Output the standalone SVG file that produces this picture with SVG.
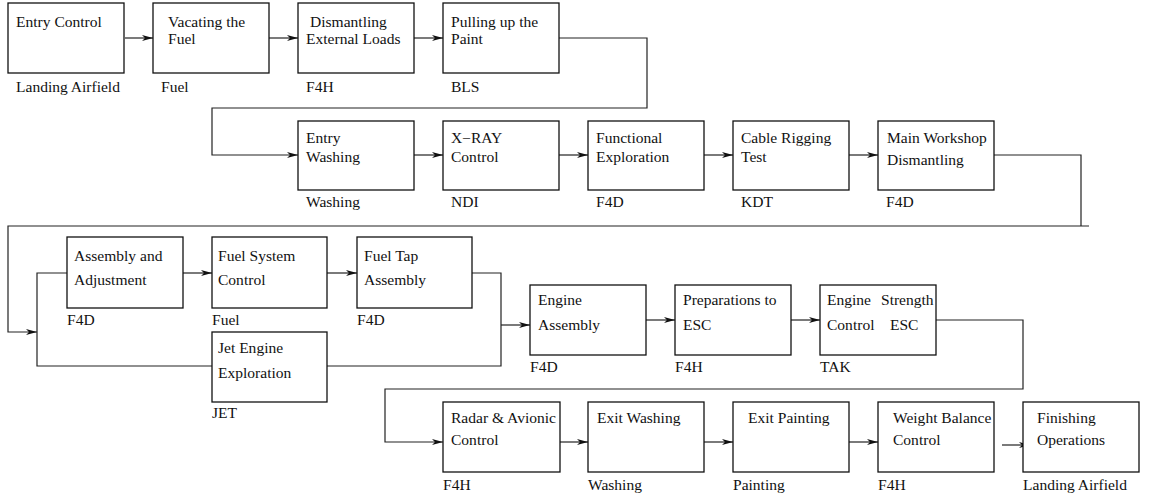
<svg xmlns="http://www.w3.org/2000/svg" width="1153" height="498" viewBox="0 0 1153 498">
<style>
.b{fill:#fff;stroke:#111;stroke-width:1.3}
.c{fill:none;stroke:#222;stroke-width:1.2}
.a{marker-end:url(#ah)}
text{font-family:"Liberation Serif","Times New Roman",serif;font-size:14px;fill:#111}
</style>
<defs>
<marker id="ah" markerUnits="userSpaceOnUse" markerWidth="12" markerHeight="7" refX="11" refY="3" orient="auto">
<path d="M0,0 L11,3 L0,6 L3,3 z" fill="#111"/>
</marker>
</defs>
<rect width="1153" height="498" fill="#fff"/>
<g id="connectors">
<path class="c a" d="M125,38 H153"/>
<path class="c a" d="M269,38 H298"/>
<path class="c a" d="M414,38 H443"/>
<path class="c a" d="M559,38 H647 V108 H212 V155 H298"/>
<path class="c a" d="M414,155 H443"/>
<path class="c a" d="M559,155 H588"/>
<path class="c a" d="M704,155 H733"/>
<path class="c a" d="M849,155 H878"/>
<path class="c" d="M994,155 H1081 V226"/>
<path class="c a" d="M1089,226 H8 V332 H37"/>
<path class="c" d="M67,273 H37 V366 H212"/>
<path class="c a" d="M183,273 H212"/>
<path class="c a" d="M327,273 H357"/>
<path class="c" d="M472,273 H501 V366 H327"/>
<path class="c a" d="M501,325 H530"/>
<path class="c a" d="M646,320 H675"/>
<path class="c a" d="M791,320 H820"/>
<path class="c a" d="M936,320 H1023 V389 H385 V442 H443"/>
<path class="c a" d="M560,442 H588"/>
<path class="c a" d="M704,442 H733"/>
<path class="c a" d="M849,442 H878"/>
<path class="c a" d="M1002,445 H1030"/>
</g>
<g id="n1"><rect class="b" x="8" y="3" width="116" height="70"/>
<text transform="translate(16 27) scale(1.11 1)">Entry Control</text>
<text transform="translate(16 92) scale(1.11 1)">Landing Airfield</text></g>
<g id="n2"><rect class="b" x="153" y="3" width="116" height="70"/>
<text transform="translate(168 27) scale(1.11 1)">Vacating the</text>
<text transform="translate(168 44) scale(1.11 1)">Fuel</text>
<text transform="translate(161 92) scale(1.11 1)">Fuel</text></g>
<g id="n3"><rect class="b" x="298" y="3" width="116" height="70"/>
<text transform="translate(310 27) scale(1.11 1)">Dismantling</text>
<text transform="translate(306 44) scale(1.11 1)">External Loads</text>
<text transform="translate(306 92) scale(1.11 1)">F4H</text></g>
<g id="n4"><rect class="b" x="443" y="3" width="116" height="70"/>
<text transform="translate(451 27) scale(1.11 1)">Pulling up the</text>
<text transform="translate(451 44) scale(1.11 1)">Paint</text>
<text transform="translate(451 92) scale(1.11 1)">BLS</text></g>
<g id="n5"><rect class="b" x="298" y="121" width="116" height="69"/>
<text transform="translate(306 143) scale(1.11 1)">Entry</text>
<text transform="translate(306 162) scale(1.11 1)">Washing</text>
<text transform="translate(306 207) scale(1.11 1)">Washing</text></g>
<g id="n6"><rect class="b" x="443" y="121" width="116" height="69"/>
<text transform="translate(451 143) scale(1.11 1)">X−RAY</text>
<text transform="translate(451 162) scale(1.11 1)">Control</text>
<text transform="translate(451 207) scale(1.11 1)">NDI</text></g>
<g id="n7"><rect class="b" x="588" y="121" width="116" height="69"/>
<text transform="translate(596 143) scale(1.11 1)">Functional</text>
<text transform="translate(596 162) scale(1.11 1)">Exploration</text>
<text transform="translate(596 207) scale(1.11 1)">F4D</text></g>
<g id="n8"><rect class="b" x="733" y="121" width="116" height="69"/>
<text transform="translate(741 143) scale(1.11 1)">Cable Rigging</text>
<text transform="translate(741 162) scale(1.11 1)">Test</text>
<text transform="translate(741 207) scale(1.11 1)">KDT</text></g>
<g id="n9"><rect class="b" x="878" y="121" width="116" height="69"/>
<text transform="translate(887 143) scale(1.11 1)">Main Workshop</text>
<text transform="translate(887 165) scale(1.11 1)">Dismantling</text>
<text transform="translate(886 207) scale(1.11 1)">F4D</text></g>
<g id="n10"><rect class="b" x="67" y="237" width="116" height="71"/>
<text transform="translate(74 261) scale(1.11 1)">Assembly and</text>
<text transform="translate(74 285) scale(1.11 1)">Adjustment</text>
<text transform="translate(67 325) scale(1.11 1)">F4D</text></g>
<g id="n11"><rect class="b" x="212" y="237" width="115" height="71"/>
<text transform="translate(218 261) scale(1.11 1)">Fuel System</text>
<text transform="translate(218 285) scale(1.11 1)">Control</text>
<text transform="translate(212 325) scale(1.11 1)">Fuel</text></g>
<g id="n12"><rect class="b" x="357" y="237" width="115" height="71"/>
<text transform="translate(364 261) scale(1.11 1)">Fuel Tap</text>
<text transform="translate(364 285) scale(1.11 1)">Assembly</text>
<text transform="translate(357 325) scale(1.11 1)">F4D</text></g>
<g id="n13"><rect class="b" x="212" y="332" width="115" height="70"/>
<text transform="translate(218 353) scale(1.11 1)">Jet Engine</text>
<text transform="translate(218 378) scale(1.11 1)">Exploration</text>
<text transform="translate(212 418) scale(1.11 1)">JET</text></g>
<g id="n14"><rect class="b" x="530" y="285" width="116" height="70"/>
<text transform="translate(538 305) scale(1.11 1)">Engine</text>
<text transform="translate(538 330) scale(1.11 1)">Assembly</text>
<text transform="translate(530 372) scale(1.11 1)">F4D</text></g>
<g id="n15"><rect class="b" x="675" y="285" width="116" height="70"/>
<text transform="translate(683 305) scale(1.11 1)">Preparations to</text>
<text transform="translate(683 330) scale(1.11 1)">ESC</text>
<text transform="translate(675 372) scale(1.11 1)">F4H</text></g>
<g id="n16"><rect class="b" x="820" y="285" width="116" height="70"/>
<text transform="translate(827 305) scale(1.11 1)">Engine</text>
<text transform="translate(881 305) scale(1.11 1)">Strength</text>
<text transform="translate(827 330) scale(1.11 1)">Control</text>
<text transform="translate(890 330) scale(1.11 1)">ESC</text>
<text transform="translate(820 372) scale(1.11 1)">TAK</text></g>
<g id="n17"><rect class="b" x="443" y="402" width="117" height="70"/>
<text transform="translate(451 423) scale(1.11 1)">Radar &amp; Avionic</text>
<text transform="translate(451 445) scale(1.11 1)">Control</text>
<text transform="translate(443 490) scale(1.11 1)">F4H</text></g>
<g id="n18"><rect class="b" x="588" y="402" width="116" height="70"/>
<text transform="translate(597 423) scale(1.11 1)">Exit Washing</text>
<text transform="translate(588 490) scale(1.11 1)">Washing</text></g>
<g id="n19"><rect class="b" x="733" y="402" width="116" height="70"/>
<text transform="translate(748 423) scale(1.11 1)">Exit Painting</text>
<text transform="translate(733 490) scale(1.11 1)">Painting</text></g>
<g id="n20"><rect class="b" x="878" y="402" width="116" height="70"/>
<text transform="translate(893 423) scale(1.11 1)">Weight Balance</text>
<text transform="translate(893 445) scale(1.11 1)">Control</text>
<text transform="translate(878 490) scale(1.11 1)">F4H</text></g>
<g id="n21"><rect class="b" x="1023" y="402" width="116" height="70"/>
<text transform="translate(1037 423) scale(1.11 1)">Finishing</text>
<text transform="translate(1037 445) scale(1.11 1)">Operations</text>
<text transform="translate(1023 490) scale(1.11 1)">Landing Airfield</text></g>
</svg>
